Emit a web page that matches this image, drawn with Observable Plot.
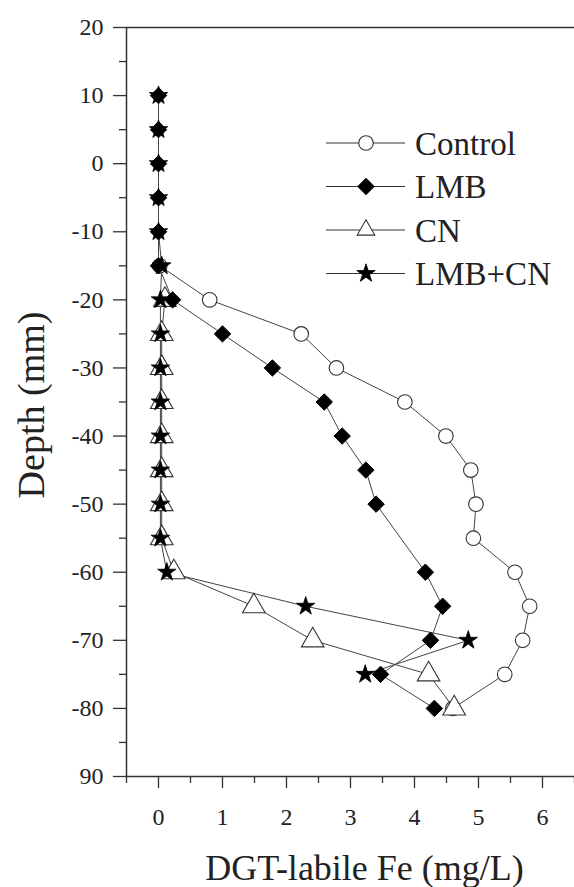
<!DOCTYPE html>
<html><head><meta charset="utf-8">
<script src="https://cdn.jsdelivr.net/npm/d3@7"></script>
<script src="https://cdn.jsdelivr.net/npm/@observablehq/plot@0.6"></script>
<style>
body{margin:0;background:#fff;}
#wrap{position:relative;width:574px;height:887px;font-family:"Liberation Serif",Tinos,"Times New Roman",Times,"Nimbus Roman","Nimbus Roman No9 L",FreeSerif,"Noto Serif","DejaVu Serif",serif;}
#wrap svg text{font-family:"Liberation Serif",Tinos,"Times New Roman",Times,"Nimbus Roman","Nimbus Roman No9 L",FreeSerif,"Noto Serif","DejaVu Serif",serif;}
#legend{position:absolute;left:0;top:0;pointer-events:none;}
</style></head><body><div id="wrap"></div>
<script>
// Depth (mm) of each sampling level
const depths = [10,5,0,-5,-10,-15,-20,-25,-30,-35,-40,-45,-50,-55,-60,-65,-70,-75,-80];
// DGT-labile Fe (mg/L) for each series; null = no point at that depth
const control = [null,null,null,null,null,0.02,0.80,2.23,2.78,3.85,4.49,4.88,4.96,4.92,5.57,5.80,5.69,5.41,4.60];
const lmb     = [0,0,0,0,0,0,0.22,1.00,1.78,2.59,2.87,3.24,3.40,null,4.17,4.44,4.25,3.47,4.31];
const cn      = [null,null,null,null,null,null,0.10,0.05,0.05,0.05,0.05,0.05,0.05,0.05,0.24,1.49,2.41,4.22,4.62];
const lmbcn   = [0,0,0,0,0,0.05,0.03,0.03,0.03,0.03,0.03,0.03,0.03,0.03,0.13,2.30,4.84,3.23,null];

const seriesNames = ["Control","LMB","CN","LMB+CN"];

const yTicks = [20,10,0,-10,-20,-30,-40,-50,-60,-70,-80,-90];
const yTickLabels = ["20","10","0","-10","-20","-30","-40","-50","-60","-70","-80","90"];
const yMinor = [15,5,-5,-15,-25,-35,-45,-55,-65,-75,-85];
const xTicks = [0,1,2,3,4,5,6];
const xTickLabels = ["0","1","2","3","4","5","6"];
const xMinor = [-0.5,0.5,1.5,2.5,3.5,4.5,5.5,6.5];

const xTitle = "DGT-labile Fe (mg/L)";
const yTitle = "Depth (mm)";

const FONT = '"Liberation Serif",Tinos,"Times New Roman",Times,"Nimbus Roman","Nimbus Roman No9 L",FreeSerif,"Noto Serif","DejaVu Serif",serif';

const toRows = (vals) => depths.map((d,i)=>({depth:d, fe:vals[i]})).filter(r => r.fe !== null);
const dCtrl = toRows(control), dLmb = toRows(lmb), dCn = toRows(cn), dLc = toRows(lmbcn);

const styles = [
  {symbol:"circle", r:7.3, fill:"white", stroke:"#333", strokeWidth:1.1},
  {symbol:"diamond2", r:7.4, fill:"black", stroke:"black", strokeWidth:1},
  {symbol:"triangle", r:8.4, fill:"white", stroke:"#333", strokeWidth:1.1},
  {symbol:"star", r:5.8, fill:"black", stroke:"black", strokeWidth:0.8}
];
const datasets = [dCtrl, dLmb, dCn, dLc];
const drawOrder = [0, 2, 3, 1];

const yMap = new Map(yTicks.map((t,i)=>[t, yTickLabels[i]]));
const xMap = new Map(xTicks.map((t,i)=>[t, xTickLabels[i]]));

const marks = [
  Plot.ruleX([-0.5], {stroke:"#333", strokeWidth:1.5}),
  Plot.ruleY([20], {stroke:"#333", strokeWidth:1.5}),
  Plot.ruleY([-90], {stroke:"#333", strokeWidth:1.5}),
  Plot.axisY(yTicks, {anchor:"left", tickSize:13, tickPadding:10, fontSize:24, tickFormat: d => yMap.get(d), label:null, stroke:"#333", strokeWidth:1.3, color:"#222", fontFamily:FONT}),
  Plot.axisY(yMinor, {anchor:"left", tickSize:7, text:null, label:null, stroke:"#333", strokeWidth:1.3}),
  Plot.axisX(xTicks, {anchor:"bottom", tickSize:12, tickPadding:19, fontSize:24, tickFormat: d => xMap.get(d), label:null, stroke:"#333", strokeWidth:1.3, color:"#222", fontFamily:FONT}),
  Plot.axisX(xMinor, {anchor:"bottom", tickSize:7, text:null, label:null, stroke:"#333", strokeWidth:1.3}),
  Plot.text([yTitle], {frameAnchor:"left", dx:-95, dy:3, rotate:-90, fontSize:38, fill:"#222", textAnchor:"middle", lineAnchor:"middle", fontFamily:FONT}),
  Plot.text([xTitle], {frameAnchor:"bottom", dx:14, dy:92, fontSize:36, fill:"#222", textAnchor:"middle", lineAnchor:"middle", fontFamily:FONT})
];
datasets.forEach(ds => marks.push(Plot.line(ds, {x:"fe", y:"depth", stroke:"#444", strokeWidth:1})));
drawOrder.forEach(i => marks.push(Plot.dot(datasets[i], {x:"fe", y:"depth", ...styles[i]})));

const chart = Plot.plot({
  width:574, height:887,
  marginLeft:126, marginRight:0, marginTop:27, marginBottom:111,
  style:{fontFamily:FONT, background:"white", color:"#222", overflow:"visible"},
  x:{domain:[-0.5,6.5]},
  y:{domain:[-90,20]},
  marks
});
const wrap = document.getElementById("wrap");
wrap.appendChild(chart);

// Legend overlay
const symMap = {circle:d3.symbolCircle, diamond2:d3.symbolDiamond2, triangle:d3.symbolTriangle2, star:d3.symbolStar};
const lg = d3.select(wrap).append("svg").attr("id","legend").attr("width",574).attr("height",887);
seriesNames.forEach((name,i) => {
  const y = 143 + i*43.5;
  const g = lg.append("g").attr("transform", `translate(0,${y})`);
  g.append("line").attr("x1",326).attr("x2",405).attr("y1",0).attr("y2",0).attr("stroke","#333").attr("stroke-width",1.2);
  const s = styles[i];
  g.append("path").attr("transform","translate(366,0)")
    .attr("d", d3.symbol(symMap[s.symbol], Math.PI*s.r*s.r)())
    .attr("fill", s.fill).attr("stroke", s.stroke).attr("stroke-width", s.strokeWidth);
  g.append("text").attr("x",415).attr("y",0).attr("dy","0.35em")
    .attr("font-family",FONT).attr("font-size",33).attr("fill","#222").text(name);
});
</script></body></html>
